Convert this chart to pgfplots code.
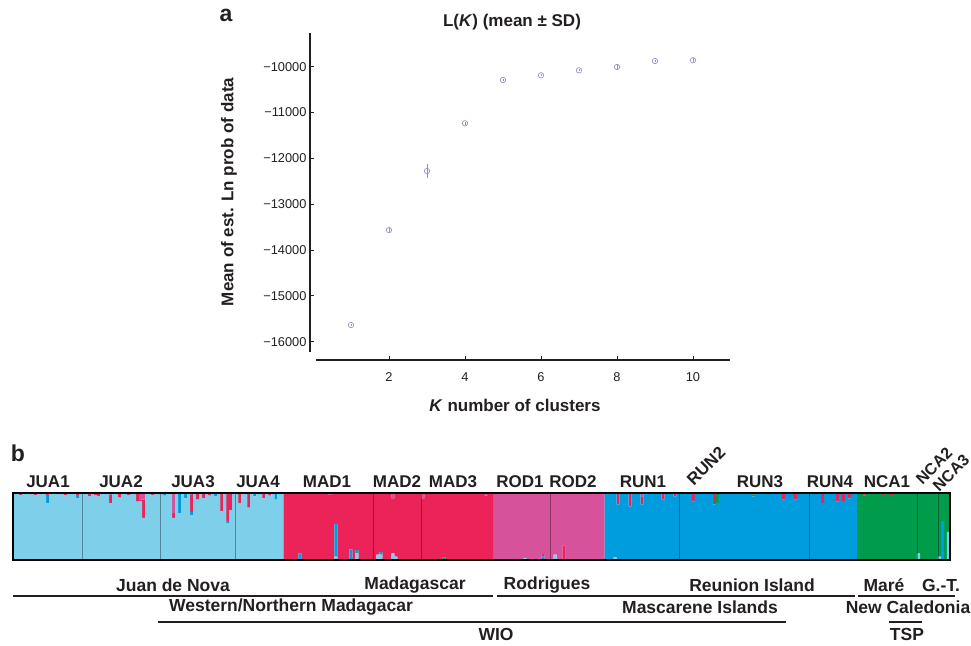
\documentclass[border=0pt]{standalone}
\usepackage{fontspec}
\setmainfont{Liberation Sans}
\usepackage{pgfplots}
\usepackage{pgfplotstable}
\pgfplotsset{compat=1.18}
\definecolor{lb}{HTML}{7DCFEA}
\definecolor{bl}{HTML}{009DDE}
\definecolor{gr}{HTML}{009C4C}
\definecolor{rd}{HTML}{EB2358}
\definecolor{pk}{HTML}{D6529B}
\definecolor{mk}{HTML}{8C8CD0}
\definecolor{txt}{HTML}{231F20}

\pgfplotstableread{
K mean sd
1 -15638 30
2 -13566 45
3 -12277 150
4 -11236 40
5 -10290 20
6 -10188 20
7 -10079 25
8 -10007 45
9 -9876 30
10 -9860 45
}\lk

\pgfplotstableread[row sep=\\]{
lb bl gr rd pk\\
1 0 0 0 0\\ 1 0 0 0 0\\ 0.97 0 0 0.03 0\\ 1 0 0 0 0\\ 1 0 0 0 0\\ 1 0 0 0 0\\ 1 0 0 0 0\\ 0.97 0 0 0.03 0\\ 1 0 0 0 0\\ 1 0 0 0 0\\
1 0 0 0 0\\ 0.85 0.12 0 0.03 0\\ 1 0 0 0 0\\ 1 0 0 0 0\\ 1 0 0 0 0\\ 1 0 0 0 0\\ 1 0 0 0 0\\ 0.97 0 0 0.03 0\\ 1 0 0 0 0\\ 1 0 0 0 0\\
1 0 0 0 0\\ 0.92 0.05 0 0.03 0\\ 1 0 0 0 0\\ 1 0 0 0 0\\ 1 0 0 0 0\\ 0.95 0 0 0.05 0\\ 1 0 0 0 0\\ 0.97 0 0 0.03 0\\ 0.95 0 0 0.05 0\\ 1 0 0 0 0\\
1 0 0 0 0\\ 1 0 0 0 0\\ 0.85 0 0 0.13 0.02\\ 1 0 0 0 0\\ 1 0 0 0 0\\ 0.93 0 0 0.07 0\\ 1 0 0 0 0\\ 1 0 0 0 0\\ 0.97 0 0 0.03 0\\ 1 0 0 0 0\\
1 0 0 0 0\\ 0.87 0 0 0.13 0\\ 0.88 0 0 0.02 0.1\\ 0.63 0 0 0.27 0.1\\ 1 0 0 0 0\\ 1 0 0 0 0\\ 0.97 0 0 0.03 0\\ 1 0 0 0 0\\ 1 0 0 0 0\\ 1 0 0 0 0\\
0.96 0.04 0 0 0\\ 1 0 0 0 0\\ 1 0 0 0 0\\ 0.63 0 0 0.07 0.3\\ 1 0 0 0 0\\ 0.7 0.3 0 0 0\\ 1 0 0 0 0\\ 0.92 0.08 0 0 0\\ 1 0 0 0 0\\ 0.67 0.05 0 0.25 0.03\\
1 0 0 0 0\\ 0.9 0 0 0.1 0\\ 1 0 0 0 0\\ 0.92 0 0 0.08 0\\ 1 0 0 0 0\\ 0.96 0 0 0.04 0\\ 1 0 0 0 0\\ 0.95 0.05 0 0 0\\ 1 0 0 0 0\\ 0.73 0 0 0.27 0\\
1 0 0 0 0\\ 0.55 0.03 0 0.42 0\\ 0.74 0 0 0.26 0\\ 1 0 0 0 0\\ 1 0 0 0 0\\ 0.85 0 0 0.15 0\\ 1 0 0 0 0\\ 1 0 0 0 0\\ 0.78 0 0 0.22 0\\ 1 0 0 0 0\\
0.95 0.05 0 0 0\\ 1 0 0 0 0\\ 1 0 0 0 0\\ 0.92 0 0 0.08 0\\ 1 0 0 0 0\\ 0.96 0 0 0.04 0\\ 1 0 0 0 0\\ 0.9 0.1 0 0 0\\ 1 0 0 0 0\\ 1 0 0 0 0\\
0 0 0 1 0\\ 0 0 0 1 0\\ 0 0 0 1 0\\ 0 0 0 1 0\\ 0 0 0 1 0\\ 0 0.1 0 0.9 0\\ 0 0 0 1 0\\ 0 0 0 1 0\\ 0 0 0 1 0\\ 0 0 0 1 0\\
0 0 0 1 0\\ 0 0 0 1 0\\ 0 0 0 1 0\\ 0 0 0 1 0\\ 0 0 0 1 0\\ 0 0 0 0.97 0.03\\ 0 0 0 1 0\\ 0.05 0.49 0 0.46 0\\ 0 0 0 1 0\\ 0 0 0 1 0\\
0 0 0 1 0\\ 0 0 0 1 0\\ 0 0.16 0 0.84 0\\ 0 0 0 1 0\\ 0.1 0.05 0 0.85 0\\ 0 0 0 1 0\\ 0 0 0 1 0\\ 0 0 0 1 0\\ 0 0 0 1 0\\ 0 0 0 1 0\\
0 0 0 1 0\\ 0.08 0 0 0.92 0\\ 0.08 0.04 0 0.88 0\\ 0 0 0 1 0\\ 0 0 0 1 0\\ 0 0 0 1 0\\ 0.1 0 0 0.82 0.08\\ 0.05 0 0 0.95 0\\ 0 0 0 1 0\\ 0 0 0 1 0\\
0 0 0 1 0\\ 0 0 0 1 0\\ 0 0 0 1 0\\ 0 0 0 1 0\\ 0 0 0 1 0\\ 0 0 0 1 0\\ 0 0 0 0.92 0.08\\ 0 0 0 1 0\\ 0 0 0 1 0\\ 0 0 0 1 0\\
0 0 0 1 0\\ 0 0 0 1 0\\ 0 0 0 1 0\\ 0 0 0.04 0.96 0\\ 0 0 0 1 0\\ 0 0 0 1 0\\ 0 0 0 1 0\\ 0 0 0 1 0\\ 0 0 0 1 0\\ 0 0 0 1 0\\
0 0 0 1 0\\ 0 0 0 1 0\\ 0 0 0 1 0\\ 0 0 0 1 0\\ 0 0 0 1 0\\ 0 0 0 1 0\\ 0 0 0 1 0\\ 0 0 0 0.96 0.04\\ 0 0 0 1 0\\ 0 0 0 1 0\\
0 0 0 0 1\\ 0 0 0 0 1\\ 0 0 0 0 1\\ 0 0 0 0 1\\ 0 0 0 0 1\\ 0 0 0 0 1\\ 0 0 0 0 1\\ 0 0 0 0 1\\ 0 0 0 0 1\\ 0 0 0 0 1\\
0.03 0 0 0 0.97\\ 0 0 0 0 1\\ 0 0 0 0 1\\ 0 0 0 0 1\\ 0 0 0 0 1\\ 0 0 0 0 1\\ 0 0.05 0 0.04 0.91\\ 0 0 0 0 1\\ 0 0 0 0 1\\ 0 0 0 0 1\\
0.08 0 0 0 0.92\\ 0 0 0 0 1\\ 0 0 0 0 1\\ 0 0 0 0.22 0.78\\ 0 0 0 0 1\\ 0 0 0 0 1\\ 0 0 0 0 1\\ 0 0 0 0 1\\ 0 0 0 0 1\\ 0 0 0 0 1\\
0 0 0 0 1\\ 0 0 0 0 1\\ 0 0 0 0 1\\ 0 0 0 0 1\\ 0 0 0 0 1\\ 0 0 0 0 1\\ 0 0 0 0 1\\
0 1 0 0 0\\ 0 1 0 0 0\\ 0 1 0 0 0\\ 0.04 0.96 0 0 0\\ 0 0.83 0 0.17 0\\ 0 1 0 0 0\\ 0 1 0 0 0\\ 0 1 0 0 0\\ 0 0.8 0 0.2 0\\ 0 1 0 0 0\\
0 1 0 0 0\\ 0 1 0 0 0\\ 0 0.83 0 0.12 0.05\\ 0 1 0 0 0\\ 0 1 0 0 0\\ 0 1 0 0 0\\ 0 1 0 0 0\\ 0 1 0 0 0\\ 0 1 0 0 0\\ 0 0.9 0 0.1 0\\
0 1 0 0 0\\ 0 1 0 0 0\\ 0 1 0 0 0\\ 0 0.95 0 0.05 0\\ 0 1 0 0 0\\ 0 1 0 0 0\\ 0 1 0 0 0\\ 0 1 0 0 0\\ 0 1 0 0 0\\ 0 0.87 0 0.13 0\\
0 1 0 0 0\\ 0 1 0 0 0\\ 0 1 0 0 0\\ 0 1 0 0 0\\ 0 1 0 0 0\\ 0 1 0 0 0\\ 0 0.83 0.05 0.12 0\\ 0 0.85 0.15 0 0\\ 0 1 0 0 0\\ 0 1 0 0 0\\
0 1 0 0 0\\ 0 1 0 0 0\\ 0 1 0 0 0\\ 0 1 0 0 0\\ 0 1 0 0 0\\ 0 1 0 0 0\\ 0 1 0 0 0\\ 0 1 0 0 0\\ 0 1 0 0 0\\ 0 0.95 0.03 0.02 0\\
0 1 0 0 0\\ 0 1 0 0 0\\ 0 1 0 0 0\\ 0 1 0 0 0\\ 0 1 0 0 0\\ 0 1 0 0 0\\ 0 1 0 0 0\\ 0 1 0 0 0\\ 0 1 0 0 0\\ 0 0.9 0 0.1 0\\
0 1 0 0 0\\ 0 1 0 0 0\\ 0 1 0 0 0\\ 0 0.9 0 0.1 0\\ 0 1 0 0 0\\ 0 1 0 0 0\\ 0 1 0 0 0\\ 0 1 0 0 0\\ 0 1 0 0 0\\ 0 1 0 0 0\\
0 1 0 0 0\\ 0 1 0 0 0\\ 0 0.85 0 0.15 0\\ 0 1 0 0 0\\ 0 1 0 0 0\\ 0 1 0 0 0\\ 0 1 0 0 0\\ 0 0.87 0 0.13 0\\ 0 1 0 0 0\\ 0 0.88 0 0.12 0\\
0 1 0 0 0\\ 0 0.92 0 0.08 0\\ 0 1 0 0 0\\ 0 1 0 0 0\\
0 0 1 0 0\\ 0 0 1 0 0\\ 0 0 0.96 0.04 0\\ 0 0 1 0 0\\ 0 0 1 0 0\\ 0 0 1 0 0\\ 0 0 1 0 0\\ 0 0 1 0 0\\ 0 0 0.97 0.03 0\\ 0 0 1 0 0\\
0 0 1 0 0\\ 0 0 0.97 0.03 0\\ 0 0 1 0 0\\ 0 0 1 0 0\\ 0 0 1 0 0\\ 0 0 1 0 0\\ 0 0 1 0 0\\ 0 0 1 0 0\\ 0 0 1 0 0\\ 0 0 1 0 0\\
0.1 0 0.9 0 0\\ 0 0 1 0 0\\ 0 0 1 0 0\\ 0 0 1 0 0\\ 0 0 1 0 0\\ 0 0 1 0 0\\ 0 0 1 0 0\\ 0.05 0 0.95 0 0\\ 0 0.58 0.42 0 0\\ 0 0 1 0 0\\
0.42 0 0.58 0 0\\
}\adm

\newcommand{\lab}{\fontsize{17}{20}\selectfont\bfseries}
\newcommand{\reg}{\fontsize{17.5}{20}\selectfont\bfseries}

\begin{document}
\begin{tikzpicture}[x=1pt,y=1pt,every node/.style={text=txt}]
\path[use as bounding box] (0,0) rectangle (971,645);

\begin{axis}[
  at={(316pt,293pt)}, anchor=south west,
  scale only axis, width=414pt, height=319pt,
  xmin=0.079, xmax=10.974, ymin=-16225, ymax=-9265,
  scaled y ticks=false, scaled x ticks=false,
  axis x line*=bottom, axis y line*=left,
  axis x line shift=8pt, axis y line shift=6pt,
  xtick pos=lower, ytick pos=left,
  axis line style={-, txt, line width=1.1pt},
  tick align=inside, major tick length=4pt,
  tick style={txt, line width=0.9pt},
  xtick={2,4,6,8,10}, xticklabels={2,4,6,8,10},
  ytick={-16000,-15000,-14000,-13000,-12000,-11000,-10000},
  yticklabels={−16000,−15000,−14000,−13000,−12000,−11000,−10000},
  ticklabel style={font=\fontsize{12.8}{14}\selectfont, text=txt},
  xticklabel style={yshift=-9pt},
  clip=false,
]
\addplot[only marks, mark=o, mark size=2.7pt, color=mk, mark options={line width=0.65pt},
  error bars/.cd, y dir=both, y explicit, error bar style={mk, line width=0.7pt}, error mark=none]
  table[x=K, y=mean, y error=sd] {\lk};
\end{axis}

\node[font=\fontsize{23}{26}\selectfont\bfseries] at (226,630) {a};
\node[font=\lab] at (512,623) {L(\textit{K}) (mean ± SD)};
\node[font=\lab, rotate=90] at (229,453) {Mean of est. Ln prob of data};
\node[font=\lab] at (515,240) {\textit{K} number of clusters};

\begin{axis}[
  at={(13pt,85pt)}, anchor=south west,
  scale only axis, width=937pt, height=67pt,
  xmin=0.5, xmax=312.5, ymin=0, ymax=1,
  ybar stacked, bar width=1.02,
  ytick=\empty,
  xtick={23.5,49.5,74.5,120.5,136.5,179.5,222.5,265.5,301.5,308.5},
  xticklabels={}, major tick length=0pt,
  xmajorgrids, major grid style={black, opacity=0.35, line width=0.6pt},
  axis on top, axis line style={black, line width=1.6pt},
]
\addplot[fill=lb, draw=none] table[x expr=\coordindex+1, y=lb] {\adm};
\addplot[fill=bl, draw=none] table[x expr=\coordindex+1, y=bl] {\adm};
\addplot[fill=gr, draw=none] table[x expr=\coordindex+1, y=gr] {\adm};
\addplot[fill=rd, draw=none] table[x expr=\coordindex+1, y=rd] {\adm};
\addplot[fill=pk, draw=none] table[x expr=\coordindex+1, y=pk] {\adm};
\end{axis}

\node[font=\fontsize{23}{26}\selectfont\bfseries] at (18,192) {b};
\foreach \n/\x in {JUA1/48,JUA2/121,JUA3/193,JUA4/258,MAD1/327,MAD2/397,MAD3/453,ROD1/520,ROD2/573,RUN1/643,RUN3/760,RUN4/830,NCA1/887}
  \node[font=\lab] at (\x,163) {\n};
\node[font=\lab, rotate=45] at (706,179) {RUN2};
\node[font=\fontsize{16}{18}\selectfont\bfseries, rotate=45] at (934,179) {NCA2};
\node[font=\fontsize{16}{18}\selectfont\bfseries, rotate=45] at (951,172) {NCA3};

\node[font=\reg] at (173,60) {Juan de Nova};
\node[font=\reg] at (415,60) {Madagascar};
\node[font=\reg] at (547,60) {Rodrigues};
\node[font=\reg] at (752,60) {Reunion Island};
\node[font=\reg] at (884,60) {Maré};
\node[font=\reg] at (941,60) {G.-T.};
\draw[txt, line width=1.2pt] (13,49) -- (493,49) (497,49) -- (855,49) (858,49) -- (955,49);
\node[font=\reg] at (291,38) {Western/Northern Madagacar};
\node[font=\reg] at (700,38) {Mascarene Islands};
\node[font=\reg] at (908,38) {New Caledonia};
\draw[txt, line width=1.2pt] (158,23) -- (786,23) (889,23) -- (922,23);
\node[font=\reg] at (496,11) {WIO};
\node[font=\reg] at (907,11) {TSP};
\end{tikzpicture}
\end{document}
